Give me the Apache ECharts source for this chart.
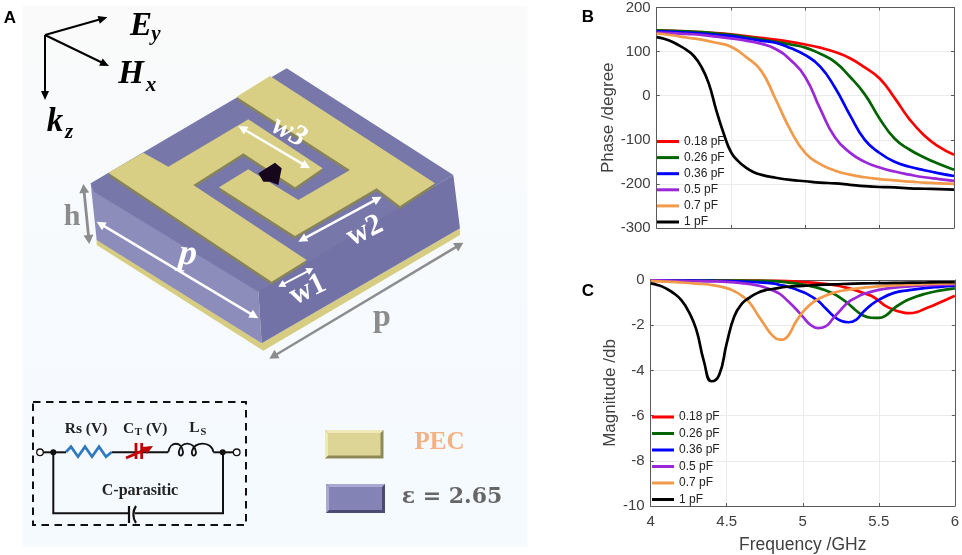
<!DOCTYPE html>
<html><head><meta charset="utf-8">
<style>html,body{margin:0;padding:0;background:#fff}#c{width:962px;height:555px}</style>
<script src="https://cdn.jsdelivr.net/npm/echarts@6/dist/echarts.min.js"></script>
</head><body><div id="c"></div>
<script>
const capNames = ['0.18 pF','0.26 pF','0.36 pF','0.5 pF','0.7 pF','1 pF'];
const capColors = ['#ff0000','#006400','#0000ff','#9a27d8','#f09a4a','#000000'];

const phaseGrid = [4,4.1,4.2,4.3,4.4,4.5,4.6,4.7,4.8,4.9,5,5.1,5.2,5.3,5.4,5.5,5.6,5.7,5.8,5.9,6];
const phaseY018 = [148,147,146,144,142,139,135,131,127,122,116,109,99,85,64,39,-5,-53,-90,-116,-134];
const phaseY026 = [148,147,146,144,141,138,133,128,122,116,109,95,76,43,3,-52,-97,-122,-140,-155,-168];
const phaseY036 = [146,145,143,141,138,135,130,125,120,108,92,66,18,-44,-100,-130,-150,-161,-169,-176,-182];
const phaseY05 = [143,142,140,138,134,130,125,118,106,81,42,-30,-95,-129,-150,-163,-172,-179,-185,-189,-193];
const phaseY07 = [141,137,132,127,120,111,88,58,-8,-78,-130,-155,-170,-179,-185,-189,-192,-195,-197,-199,-200];
const phaseX1 = [4,4.05,4.1,4.15,4.2,4.25,4.3,4.35,4.4,4.45,4.5,4.55,4.6,4.65,4.7,4.8,4.9,5,5.1,5.2,5.3,5.4,5.5,5.6,5.7,5.8,5.9,6];
const phaseY1 = [133,129,123,114,104,90,66,28,-32,-85,-128,-149,-163,-173,-179,-186,-191,-194,-197,-199,-202,-205,-207,-208,-210,-211,-212,-213];

const magX018 = [4,4.1,4.2,4.3,4.4,4.5,4.6,4.7,4.8,4.9,5,5.1,5.2,5.3,5.35,5.4,5.45,5.5,5.55,5.6,5.65,5.7,5.75,5.8,5.85,5.9,5.95,6];
const magY018 = [-0.01,-0.01,-0.01,-0.01,-0.02,-0.02,-0.03,-0.03,-0.04,-0.05,-0.09,-0.14,-0.22,-0.36,-0.46,-0.58,-0.7,-0.92,-1.17,-1.32,-1.42,-1.47,-1.42,-1.28,-1.15,-1,-0.85,-0.7];
const magX026 = [4,4.1,4.2,4.3,4.4,4.5,4.6,4.7,4.8,4.9,5,5.05,5.1,5.15,5.2,5.25,5.3,5.35,5.4,5.45,5.5,5.55,5.6,5.65,5.7,5.8,5.9,6];
const magY026 = [-0.01,-0.01,-0.01,-0.02,-0.02,-0.03,-0.03,-0.04,-0.05,-0.11,-0.2,-0.27,-0.35,-0.46,-0.6,-0.8,-1.05,-1.35,-1.58,-1.67,-1.68,-1.55,-1.25,-1.03,-0.85,-0.62,-0.47,-0.37];
const magX036 = [4,4.1,4.2,4.3,4.4,4.5,4.6,4.7,4.8,4.85,4.9,4.95,5,5.05,5.1,5.15,5.2,5.25,5.3,5.35,5.4,5.45,5.5,5.6,5.7,5.8,5.9,6];
const magY036 = [-0.02,-0.02,-0.03,-0.03,-0.04,-0.05,-0.07,-0.1,-0.15,-0.22,-0.3,-0.4,-0.53,-0.7,-0.92,-1.25,-1.58,-1.8,-1.87,-1.76,-1.4,-1.1,-0.88,-0.57,-0.45,-0.36,-0.3,-0.25];
const magX05 = [4,4.1,4.2,4.3,4.4,4.5,4.6,4.7,4.75,4.8,4.85,4.9,4.95,5,5.05,5.1,5.15,5.2,5.25,5.3,5.35,5.4,5.5,5.6,5.7,5.8,5.9,6];
const magY05 = [-0.02,-0.03,-0.04,-0.05,-0.06,-0.08,-0.14,-0.24,-0.33,-0.45,-0.62,-0.92,-1.25,-1.62,-1.98,-2.13,-2.05,-1.7,-1.32,-0.98,-0.78,-0.62,-0.44,-0.34,-0.28,-0.24,-0.22,-0.2];
const magX07 = [4,4.1,4.2,4.3,4.4,4.5,4.55,4.6,4.65,4.7,4.75,4.8,4.85,4.9,4.95,5,5.05,5.1,5.2,5.3,5.4,5.5,5.6,5.7,5.8,5.9,6];
const magY07 = [-0.05,-0.07,-0.11,-0.16,-0.22,-0.36,-0.5,-0.7,-1,-1.5,-2,-2.45,-2.64,-2.5,-1.9,-1.42,-1.08,-0.85,-0.57,-0.43,-0.34,-0.28,-0.24,-0.21,-0.18,-0.16,-0.15];
const magX1 = [4,4.05,4.1,4.15,4.2,4.25,4.3,4.35,4.4,4.45,4.5,4.55,4.6,4.65,4.7,4.75,4.8,4.9,5,5.1,5.2,5.3,5.4,5.5,5.6,5.7,5.8,5.9,6];
const magY1 = [-0.15,-0.23,-0.37,-0.58,-0.88,-1.4,-2.2,-3.6,-4.48,-4.2,-2.8,-1.6,-1.05,-0.78,-0.58,-0.46,-0.4,-0.3,-0.26,-0.22,-0.19,-0.17,-0.15,-0.14,-0.13,-0.12,-0.11,-0.1,-0.1];

const phaseXs = [phaseGrid,phaseGrid,phaseGrid,phaseGrid,phaseGrid,phaseX1];
const phaseYs = [phaseY018,phaseY026,phaseY036,phaseY05,phaseY07,phaseY1];
const magXs = [magX018,magX026,magX036,magX05,magX07,magX1];
const magYs = [magY018,magY026,magY036,magY05,magY07,magY1];

const SANS = '"Liberation Sans", Arial, sans-serif';
const SERIF = '"Liberation Serif", "Times New Roman", serif';
const TICK = '#404040';
const BOX = '#5a5a5a';

function mkSeries(xs, ys, axisIdx){
  return capNames.map((n,i)=>({
    name:n, type:'line', xAxisIndex:axisIdx, yAxisIndex:axisIdx, smooth:0.5,
    showSymbol:false, symbol:'none', clip:true,
    lineStyle:{width:2.7,color:capColors[i]}, itemStyle:{color:capColors[i]},
    data:xs[i].map((x,j)=>[x,ys[i][j]])
  }));
}
function xAx(grid, pos, labels, name){
  return {type:'value',gridIndex:grid,position:pos,min:4,max:6,interval:0.5,
    axisLine:{show:true,onZero:false,lineStyle:{color:BOX,width:1}},
    axisTick:{show:true,inside:true,length:3,lineStyle:{color:BOX}},
    axisLabel:{show:labels,margin:8,fontSize:15,fontFamily:SANS,color:TICK},
    splitLine:{show:pos==='bottom',lineStyle:{color:'#ebebeb',width:1}},
    name:name||'',nameLocation:'middle',nameGap:30,
    nameTextStyle:{fontSize:17.5,fontFamily:SANS,color:TICK}};
}
function yAx(grid,pos,min,max,iv,name,gap){
  return {type:'value',gridIndex:grid,position:pos,min:min,max:max,interval:iv,
    axisLine:{show:true,onZero:false,lineStyle:{color:BOX,width:1}},
    axisTick:{show:true,inside:true,length:3,lineStyle:{color:BOX}},
    axisLabel:{show:pos==='left',margin:6,fontSize:15,fontFamily:SANS,color:TICK},
    splitLine:{show:pos==='left',lineStyle:{color:'#ebebeb',width:1}},
    name:name||'',nameLocation:'middle',nameGap:gap||0,
    nameTextStyle:{fontSize:17,fontFamily:SANS,color:TICK}};
}

/* ---- illustration of panel A: upper part is given in 3x units of the image ---- */
const g = [];
const s3 = pts => pts.map(p=>[p[0]/3,p[1]/3]);
function poly(pts,fill,z){g.push({type:'polygon',z:z||1,shape:{points:s3(pts)},style:{fill:fill}});}
function line(pts,color,w,z){g.push({type:'polyline',z:z||1,shape:{points:pts},style:{stroke:color,lineWidth:w,fill:null}});}
function bez(x1,y1,c1x,c1y,c2x,c2y,x2,y2,color,w){g.push({type:'bezierCurve',z:2,shape:{x1:x1,y1:y1,cpx1:c1x,cpy1:c1y,cpx2:c2x,cpy2:c2y,x2:x2,y2:y2},style:{stroke:color,lineWidth:w,fill:null}});}
function arrow(a,b,color,w,both,hl,hw){
  hl=hl||9;hw=hw||4.5;
  const [x1,y1]=[a[0]/3,a[1]/3],[x2,y2]=[b[0]/3,b[1]/3];
  const L=Math.hypot(x2-x1,y2-y1),ux=(x2-x1)/L,uy=(y2-y1)/L,nx=-uy,ny=ux;
  const head=(tx,ty,d)=>g.push({type:'polygon',z:6,shape:{points:[[tx,ty],[tx-d*ux*hl+nx*hw,ty-d*uy*hl+ny*hw],[tx-d*ux*hl-nx*hw,ty-d*uy*hl-ny*hw]]},style:{fill:color}});
  line([[both?x1+ux*hl*0.7:x1,both?y1+uy*hl*0.7:y1],[x2-ux*hl*0.7,y2-uy*hl*0.7]],color,w,6);
  head(x2,y2,1); if(both) head(x1,y1,-1);
}
function text(t,x,y,size,color,o){
  o=o||{};
  g.push({type:'text',z:7,x:x,y:y,rotation:o.rot||0,style:{text:t,fill:color,
    font:`${o.style||''} ${o.weight||'bold'} ${size}px ${o.family||SERIF}`,
    textAlign:o.align||'center',textVerticalAlign:'middle',textBaseline:'middle'}});
}

g.push({type:'rect',z:0,shape:{x:22.5,y:6,width:505,height:541},style:{fill:new echarts.graphic.LinearGradient(0,0,0,1,[{offset:0,color:'#fafafa'},{offset:0.45,color:'#f7fafd'},{offset:1,color:'#f5faff'}])}});

/* substrate */
poly([[290,715],[785,1030],[1380,685],[1380,705],[790,1052],[290,735]],'#d6cd83');
poly([[272,550],[775,870],[785,1030],[290,720]],'#8d8dbb');
poly([[775,870],[1360,525],[1380,685],[785,1030]],'#7272a6');
poly([[272,550],[860,205],[1360,525],[775,875],[282,575]],'#7777a9');
/* metal pattern */
const metalLeft=[[325,518],[430,458],[505,500],[745,358],[968,505],[885,562],[730,460],[580,555],[920,780],[815,845]];
const metalRight=[[657,562],[745,508],[895,600],[1050,510],[710,290],[810,228],[1305,550],[1200,618],[1130,565],[885,708]];
[metalLeft,metalRight].forEach(m=>{
  poly(m.map(p=>[p[0],p[1]+9]),'#87845a',2);
  poly(m,'#d8cf84',3);
});
/* chip */
poly([[775,520],[825,488],[845,505],[835,555],[810,545],[790,545]],'#16071c',4);

/* arrows */
arrow([135,105],[322,52],'#000',2,false,9,4);
arrow([135,105],[327,198],'#000',2,false,9,4);
arrow([135,105],[135,300],'#000',2,false,9,4);
arrow([715,378],[930,505],'#fff',2.4,true);
arrow([290,665],[775,955],'#fff',2.4,true);
arrow([895,725],[1145,590],'#fff',2.4,true);
arrow([835,860],[940,805],'#fff',2.2,true,7,4);
arrow([250,552],[268,732],'#8c8c8c',2.8,true,9,5);
arrow([808,1076],[1390,728],'#8c8c8c',2.4,true,9,5);

text('E',141,26,33,'#000',{style:'italic'});
text('y',156,35,21,'#000',{style:'italic'});
text('H',131,74,33,'#000',{style:'italic'});
text('x',151,86,21,'#000',{style:'italic'});
text('k',55,122,33,'#000',{style:'italic'});
text('z',69,133,21,'#000',{style:'italic'});
text('w3',289,132,30,'#fff',{style:'italic',rot:-0.5});
text('w2',365,231,30,'#fff',{rot:0.45});
text('w1',308,290,30,'#fff',{rot:0.45});
text('p',188,255,36,'#fff',{style:'italic',rot:-0.1});
text('h',72,217,30,'#8c8c8c');
text('p',382,318,32,'#8c8c8c');

/* circuit */
g.push({type:'rect',z:1,shape:{x:33,y:402,width:213,height:123},style:{fill:'none',stroke:'#111',lineWidth:2,lineDash:[7.5,5.5]}});
const cy=452.3;
line([[43,cy],[66,cy]],'#111',2);
line([[111.7,cy],[168.3,cy]],'#111',2);
line([[213.3,cy],[233.5,cy]],'#111',2);
line([[53.3,cy],[53.3,513.3],[129,513.3]],'#111',2);
line([[135,513.3],[223,513.3],[223,cy]],'#111',2);
line([[129,506],[129,523]],'#111',2.2);
bez(136,506,132.5,511,132.5,518,136,523,'#111',2.2);
line([[66,452],[71,446.7],[78,456.7],[85,446.7],[92,456.7],[99,446.7],[106,456.7],[111.7,452]],'#2e78c0',2.7);
bez(168.3,452,170,441,182,441,183,452,'#111',1.9);
bez(183,452,183,457,178,457,179,451,'#111',1.9);
bez(179,451,181,441,194,441,196,452,'#111',1.9);
bez(196,452,196,457,191,457,192,451,'#111',1.9);
bez(192,451,194,441,212,441,213.3,452,'#111',1.9);
line([[136,443],[136,459]],'#c00000',2.8);
line([[141.7,443],[141.7,459]],'#c00000',2.8);
line([[126,458],[150,447.5]],'#c00000',2.8);
g.push({type:'polygon',z:3,shape:{points:[[153,446],[142,447],[147,454]]},style:{fill:'#c00000'}});
[[40,cy],[236.7,cy]].forEach(p=>g.push({type:'circle',z:3,shape:{cx:p[0],cy:p[1],r:3.3},style:{fill:'#fff',stroke:'#111',lineWidth:1.3}}));
[[53.3,cy],[222.7,cy]].forEach(p=>g.push({type:'circle',z:3,shape:{cx:p[0],cy:p[1],r:3},style:{fill:'#111'}}));
text('Rs (V)',86,428.5,15.5,'#222');
text('C',128.7,428.5,15.5,'#222');
text('T',138.3,432,10.5,'#222');
text('(V)',156.7,428.5,15.5,'#222');
text('L',194.3,428,15.5,'#222');
text('S',203.3,432,10.5,'#222');
text('C-parasitic',140,491,16,'#222');

/* swatches */
function swatch(x,y,w,h,mid,light,dark){
  g.push({type:'rect',z:1,shape:{x:x,y:y,width:w,height:h},style:{fill:dark}});
  g.push({type:'polygon',z:1,shape:{points:[[x,y],[x+w,y],[x+w-3,y+3],[x+3,y+3]]},style:{fill:light}});
  g.push({type:'polygon',z:1,shape:{points:[[x,y],[x+3,y+3],[x+3,y+h-3],[x,y+h]]},style:{fill:light}});
  g.push({type:'rect',z:1,shape:{x:x+3,y:y+3,width:w-6,height:h-6},style:{fill:mid}});
}
swatch(325,430,58.5,28.5,'#dcd596','#efe9b8','#8f8a55');
swatch(326,484,59,29,'#8383b5','#a9a9d2','#4a4a72');
text('PEC',439.6,443,25,'#f4b183');
text('ε = 2.65',452,497,22,'#666666',{family:'"DejaVu Serif", serif'});

/* panel letters */
text('A',10,18,17,'#000',{family:SANS});
text('B',588,17,17,'#000',{family:SANS});
text('C',588,291,17,'#000',{family:SANS});

const legendBase = {orient:'vertical',icon:'rect',itemWidth:22,itemHeight:3,data:capNames,selectedMode:false,padding:0,
  textStyle:{fontSize:12,fontFamily:SANS,color:'#222'}};

const option = {
  animation:false, backgroundColor:'#ffffff', tooltip:{show:false},
  grid:[
    {left:656.7,top:7.5,width:297.3,height:220.5,show:false},
    {left:650.7,top:280,width:306,height:227,show:false}
  ],
  legend:[
    Object.assign({},legendBase,{left:657,top:135.5,itemGap:4.1}),
    Object.assign({},legendBase,{left:652,top:411,itemGap:4.5})
  ],
  xAxis:[xAx(0,'bottom',false),xAx(0,'top',false),xAx(1,'bottom',true,'Frequency /GHz'),xAx(1,'top',false)],
  yAxis:[yAx(0,'left',-300,200,100,'Phase /degree',35),yAx(0,'right',-300,200,100),
         yAx(1,'left',-10,0,2,'Magnitude /db',29),yAx(1,'right',-10,0,2)],
  series:mkSeries(phaseXs,phaseYs,0).concat(mkSeries(magXs,magYs,2)),
  graphic:{elements:g}
};
echarts.init(document.getElementById('c'),null,{renderer:'canvas'}).setOption(option);
</script></body></html>
